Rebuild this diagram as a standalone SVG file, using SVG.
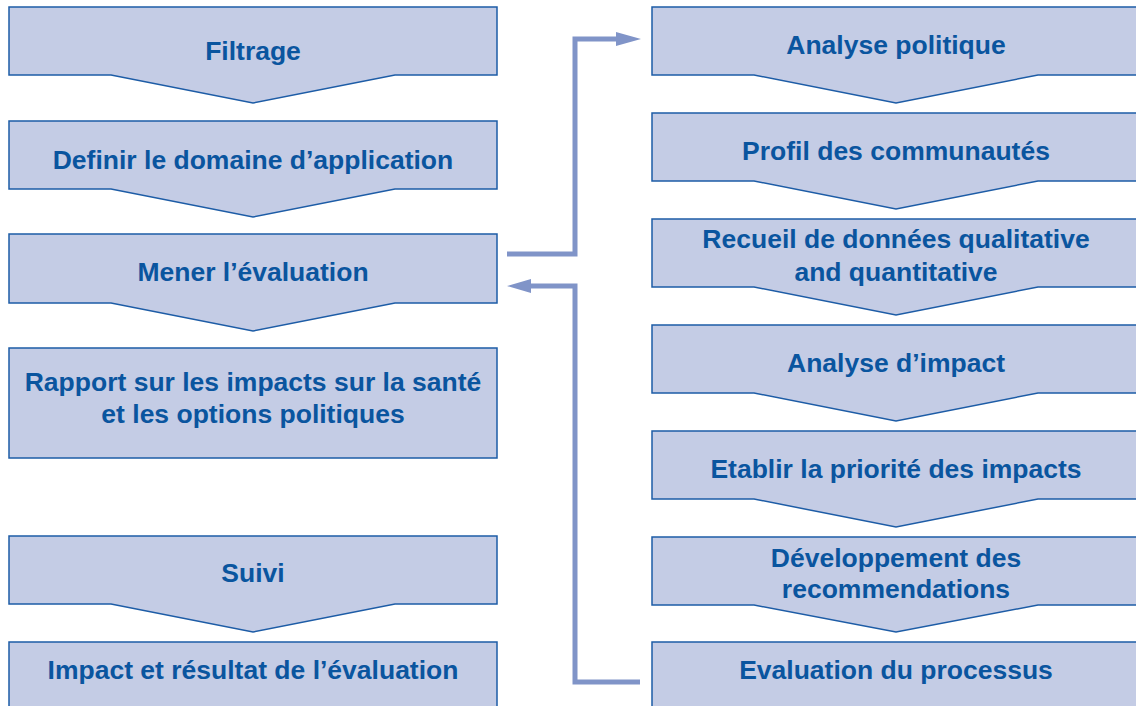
<svg xmlns="http://www.w3.org/2000/svg" width="1136" height="706" viewBox="0 0 1136 706">
<defs>
<style>
.box{fill:#c4cce5;stroke:#1d5ca6;stroke-width:1.5;stroke-linejoin:miter}
.t{font-family:"Liberation Sans",Arial,sans-serif;font-weight:bold;font-size:26.5px;fill:#0a559f;text-anchor:middle}
.conn{fill:none;stroke:#8094c8;stroke-width:5}
.head{fill:#8094c8}
</style>
</defs>
<rect width="1136" height="706" fill="#ffffff"/>
<g id="filtrage"><polygon class="box" points="9,7 497,7 497,75 395,75 253,103 111,75 9,75"/><text class="t" x="253" y="60">Filtrage</text></g>
<g id="definir"><polygon class="box" points="9,121 497,121 497,189 395,189 253,217 111,189 9,189"/><text class="t" x="253" y="169">Definir le domaine d’application</text></g>
<g id="mener"><polygon class="box" points="9,234 497,234 497,303 395,303 253,331 111,303 9,303"/><text class="t" x="253" y="281">Mener l’évaluation</text></g>
<g id="rapport"><rect class="box" x="9" y="348" width="488" height="110"/><text class="t" x="253" y="391">Rapport sur les impacts sur la santé</text><text class="t" x="253" y="423">et les options politiques</text></g>
<g id="suivi"><polygon class="box" points="9,536 497,536 497,604 395,604 253,632 111,604 9,604"/><text class="t" x="253" y="582">Suivi</text></g>
<g id="impact-resultat"><rect class="box" x="9" y="642" width="488" height="70"/><text class="t" x="253" y="679">Impact et résultat de l’évaluation</text></g>
<g id="analyse-politique"><polygon class="box" points="652,7 1142,7 1142,75 1038,75 896,103 754,75 652,75"/><text class="t" x="896" y="54">Analyse politique</text></g>
<g id="profil"><polygon class="box" points="652,113 1142,113 1142,181 1038,181 896,209 754,181 652,181"/><text class="t" x="896" y="160">Profil des communautés</text></g>
<g id="recueil"><polygon class="box" points="652,219 1142,219 1142,287 1038,287 896,315 754,287 652,287"/><text class="t" x="896" y="248">Recueil de données qualitative</text><text class="t" x="896" y="281">and quantitative</text></g>
<g id="analyse-impact"><polygon class="box" points="652,325 1142,325 1142,393 1038,393 896,421 754,393 652,393"/><text class="t" x="896" y="372">Analyse d’impact</text></g>
<g id="etablir"><polygon class="box" points="652,431 1142,431 1142,499 1038,499 896,527 754,499 652,499"/><text class="t" x="896" y="478">Etablir la priorité des impacts</text></g>
<g id="developpement"><polygon class="box" points="652,537 1142,537 1142,605 1038,605 896,632 754,605 652,605"/><text class="t" x="896" y="567">Développement des</text><text class="t" x="896" y="598">recommendations</text></g>
<g id="evaluation-processus"><rect class="box" x="652" y="642" width="490" height="70"/><text class="t" x="896" y="679">Evaluation du processus</text></g>
<g id="connectors">
<polyline class="conn" points="507,254 575,254 575,39 618,39"/>
<polygon class="head" points="641,39 616,32 616,46"/>
<polyline class="conn" points="640,682 575,682 575,286 529,286"/>
<polygon class="head" points="507,286 531,279 531,293"/>
</g>
</svg>
